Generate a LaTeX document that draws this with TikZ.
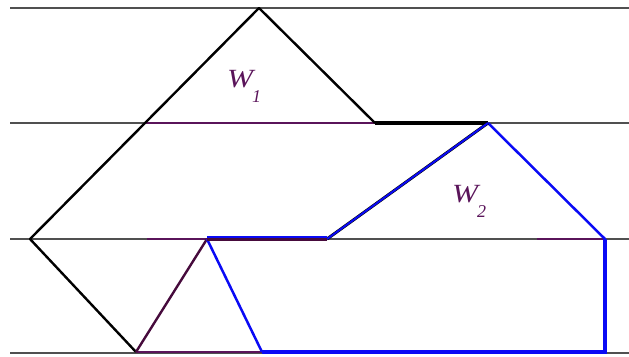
\documentclass[tikz,border=0pt]{standalone}
\usepackage{fontspec}
\setmainfont{Liberation Serif}
\definecolor{pur}{RGB}{90,20,90}
\definecolor{dpur}{RGB}{70,10,60}
\definecolor{bl}{RGB}{10,10,245}
\definecolor{gline}{RGB}{80,80,80}
\newcommand{\wlab}[1]{\scalebox{1.25}[1.05]{\fontsize{25}{25}\selectfont W}\hspace{-1pt}\raisebox{-15pt}{\fontsize{18}{18}\selectfont #1}}
\begin{document}
\begin{tikzpicture}[x=1pt,y=-1pt,
  guide/.style={draw=gline,line width=1.6pt},
  blk/.style={draw=black,line width=2.4pt},
  blkthick/.style={draw=black,line width=4pt},
  purl/.style={draw=pur,line width=1.6pt},
  blue/.style={draw=bl,line width=2.5pt},
  bluethick/.style={draw=bl,line width=4.2pt},
  lbl/.style={text=pur,font=\itshape,inner sep=0pt}]
\useasboundingbox (0,0) rectangle (629,356);
% guide line ends
\coordinate (L1) at (10,8);   \coordinate (R1) at (629,8);
\coordinate (L2) at (10,123); \coordinate (R2) at (629,123);
\coordinate (L3) at (10,239); \coordinate (R3) at (629,239);
\coordinate (L4) at (10,353); \coordinate (R4) at (629,353);
% figure points
\coordinate (A) at (259,8);
\coordinate (B) at (145,123);
\coordinate (C) at (30,239);
\coordinate (D) at (136,352);
\coordinate (E) at (375,123);
\coordinate (F) at (488,123);
\coordinate (G) at (605,239);
\coordinate (H) at (605,352);
\coordinate (I) at (262,352);
\coordinate (J) at (207,239);
\coordinate (K) at (327,239);
\coordinate (P1) at (147,239);
\coordinate (P2) at (537,239);
% guide lines
\draw[guide] (L1) -- (R1);
\draw[guide] (L2) -- (R2);
\draw[guide] (L3) -- (R3);
\draw[guide] (L4) -- (R4);
% purple overlays on guides
\draw[purl] (B) -- (E);
\draw[purl] (P1) -- (J);
\draw[purl] (P2) -- (G);
\draw[purl] (D) -- (I);
% black outline
\draw[blk,line join=round] (E) -- (A) -- (C) -- (D);
\draw[blkthick] (E) -- (F);
% purple slanted
\draw[draw=dpur,line width=2.4pt] (D) -- (J);
% blue outline
\draw[bluethick] (G) -- (H) -- (I);
\draw[blue] (F) -- (G);
\draw[blue] (I) -- (J);
\draw[draw=black,line width=3pt] (K) -- (F);
\draw[draw=bl,line width=2pt] (K) -- (F);
\draw[bluethick] ([yshift=1pt]J) -- ([yshift=1pt]K);
\draw[draw=dpur,line width=2.6pt] ([yshift=-0.6pt]J) -- ([yshift=-0.6pt]K);
% labels
\node[lbl,anchor=base west] (w1) at (227,87) {\wlab{1}};
\node[lbl,anchor=base west] (w2) at (452,202) {\wlab{2}};
\end{tikzpicture}
\end{document}
